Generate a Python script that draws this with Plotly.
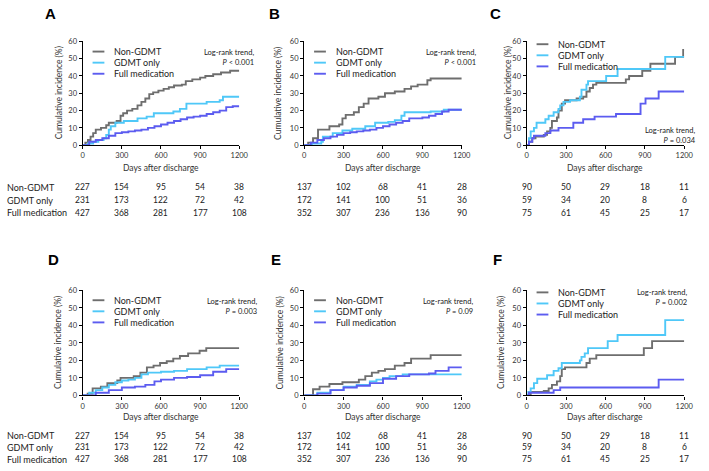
import plotly.graph_objects as go

W, H = 709, 471
FONT = "Lato"
C_NON = "#6e6e6e"
C_GD = "#4fc8f8"
C_FM = "#5c5cf0"

series_names = ["Non-GDMT", "GDMT only", "Full medication"]
day_ticks = [0, 300, 600, 900, 1200]
pct_ticks = [0, 10, 20, 30, 40, 50, 60]

# ---------------- Panel A ----------------
A_non_t = [0, 20, 40, 60, 80, 100, 140, 180, 200, 260, 290, 310, 340, 380, 420, 450, 480, 510, 540, 580, 620, 660, 700, 760, 790, 840, 900, 940, 1000, 1060, 1130, 1200]
A_non_y = [0, 1.5, 3, 5, 7, 9, 10, 11.5, 13, 14, 17, 18.5, 20, 21, 23, 25, 27, 29.5, 30.5, 31.5, 32.5, 33.5, 34.5, 35, 37, 38, 39, 40, 41, 42, 43, 43]
A_gd_t = [0, 40, 80, 120, 160, 180, 200, 215, 250, 315, 420, 490, 545, 695, 745, 795, 950, 1050, 1075, 1200]
A_gd_y = [0, 1, 2, 3, 4, 6, 9, 11, 13, 14, 15.5, 16.5, 18.5, 19.5, 21, 24, 25, 26, 28, 28]
A_fm_t = [0, 50, 100, 150, 200, 250, 300, 350, 400, 450, 500, 550, 600, 650, 700, 750, 800, 850, 900, 950, 1000, 1050, 1100, 1150, 1200]
A_fm_y = [0, 2, 3, 4, 5.5, 7, 7.5, 8, 8.5, 9, 10, 11, 12, 13, 14, 15, 16, 16.5, 17, 18, 19, 20, 22, 22.5, 22.5]

# ---------------- Panel B ----------------
B_non_t = [0, 30, 67, 105, 192, 266, 291, 316, 378, 416, 453, 490, 565, 615, 690, 764, 814, 864, 938, 963, 1200]
B_non_y = [0, 1.5, 4, 9, 11, 12, 15.5, 17.5, 19, 22, 24, 27, 28, 30, 31, 32.5, 34, 35, 37.5, 38.5, 38.5]
B_gd_t = [0, 60, 130, 142, 217, 291, 366, 465, 540, 640, 690, 740, 764, 963, 1063, 1200]
B_gd_y = [0, 1, 2, 5, 7, 8.5, 9.5, 11, 13, 13.5, 14.5, 17, 19, 19.5, 20.5, 21]
B_fm_t = [0, 50, 100, 150, 200, 250, 300, 350, 400, 450, 500, 550, 600, 650, 700, 750, 800, 850, 900, 950, 1000, 1050, 1100, 1200]
B_fm_y = [0, 1.5, 3, 4, 5, 6, 7, 7.5, 8, 8.5, 9, 10, 11, 12, 13, 14, 15.5, 15.5, 16, 17, 18, 19.5, 20.5, 21]

# ---------------- Panel C ----------------
C_non_t = [0, 17, 42, 67, 130, 155, 180, 192, 230, 242, 267, 292, 380, 430, 455, 480, 505, 530, 755, 780, 880, 942, 1130, 1192, 1200]
C_non_y = [0, 2, 4, 5, 6, 8, 10, 14, 16, 20, 24, 26, 27, 28, 31, 33, 35, 36, 38, 40, 43, 47, 51, 55, 55]
C_gd_t = [0, 17, 30, 55, 75, 142, 167, 205, 242, 255, 280, 330, 405, 417, 455, 467, 605, 692, 1055, 1200]
C_gd_y = [0, 4, 8, 10, 13, 15, 17, 19, 21, 23, 25, 26, 28, 32, 35, 37, 40, 44, 51, 51]
C_fm_t = [0, 17, 42, 55, 142, 180, 242, 355, 430, 517, 680, 867, 905, 1005, 1200]
C_fm_y = [0, 2, 4, 5.5, 7, 8.5, 10, 13, 15, 16.5, 18, 24, 27, 31, 31]

# ---------------- Panel D ----------------
D_non_t = [0, 38, 76, 139, 189, 265, 290, 391, 442, 492, 543, 593, 644, 694, 745, 808, 896, 947, 1200]
D_non_y = [0, 1, 4, 5, 7, 8.5, 10, 11, 13, 16, 17, 18.5, 19.5, 21, 22.5, 24, 25.5, 27, 27]
D_gd_t = [0, 50, 100, 150, 200, 250, 300, 350, 400, 450, 500, 600, 700, 800, 950, 1050, 1200]
D_gd_y = [0, 1.5, 3, 4.5, 6, 7.5, 8.5, 9, 10, 12, 13, 13.5, 14, 15, 16, 17, 17]
D_fm_t = [0, 100, 200, 300, 400, 480, 550, 600, 700, 800, 900, 1000, 1100, 1200]
D_fm_y = [0, 1.5, 3, 4.5, 5, 6, 8, 9, 10, 10.5, 11.5, 13.5, 15, 15]

# ---------------- Panel E ----------------
E_non_t = [0, 67, 117, 192, 291, 416, 465, 515, 565, 615, 690, 764, 814, 963, 1200]
E_non_y = [0, 3.5, 5, 6.5, 7.5, 9, 11, 13, 14, 15, 17, 18.5, 21, 23, 23]
E_gd_t = [0, 100, 200, 300, 400, 500, 550, 600, 650, 750, 1200]
E_gd_y = [0, 1.5, 3, 5, 6, 8, 9, 10, 11, 12, 12]
E_fm_t = [0, 100, 200, 300, 400, 500, 600, 700, 800, 950, 1000, 1100, 1200]
E_fm_y = [0, 1, 3, 4.5, 5.5, 7, 9.5, 11, 12, 12.5, 14, 16, 16.5]

# ---------------- Panel F ----------------
F_non_t = [0, 30, 130, 167, 192, 230, 255, 267, 292, 455, 480, 530, 892, 955, 1200]
F_non_y = [0, 2, 2.5, 4, 6, 8, 11, 15, 16, 18.5, 21, 23, 27, 31, 31]
F_gd_t = [0, 12, 30, 55, 80, 155, 205, 242, 267, 405, 417, 442, 467, 617, 692, 1055, 1200]
F_gd_y = [0, 2, 4, 7, 9.5, 11.5, 14, 15.5, 18.5, 20, 22, 24, 27, 31, 34.5, 43, 43]
F_fm_t = [0, 17, 205, 255, 1005, 1200]
F_fm_y = [0, 1.5, 3, 4.5, 9, 9]

# ---------------- Numbers at risk ----------------
risk_AD_non = [227, 154, 95, 54, 38]
risk_AD_gd = [231, 173, 122, 72, 42]
risk_AD_fm = [427, 368, 281, 177, 108]
risk_BE_non = [137, 102, 68, 41, 28]
risk_BE_gd = [172, 141, 100, 51, 36]
risk_BE_fm = [352, 307, 236, 136, 90]
risk_CF_non = [90, 50, 29, 18, 11]
risk_CF_gd = [59, 34, 20, 8, 6]
risk_CF_fm = [75, 61, 45, 25, 17]

p_texts = {"A": "<i>P</i> &lt; 0.001", "B": "<i>P</i> &lt; 0.001", "C": "<i>P</i> = 0.034",
           "D": "<i>P</i> = 0.003", "E": "<i>P</i> = 0.09", "F": "<i>P</i> = 0.002"}

panels = [
    dict(letter="A", curves=[(A_non_t, A_non_y), (A_gd_t, A_gd_y), (A_fm_t, A_fm_y)],
         risk=[risk_AD_non, risk_AD_gd, risk_AD_fm], xp=(82, 241), yp=(38, 144),
         lpos=(49, 10), ytx=58, leg_off=10.5, pr=(258, 43), rows=(187, 200, 213), xt=167, labels=True),
    dict(letter="B", curves=[(B_non_t, B_non_y), (B_gd_t, B_gd_y), (B_fm_t, B_fm_y)],
         risk=[risk_BE_non, risk_BE_gd, risk_BE_fm], xp=(307, 467), yp=(38, 144),
         lpos=(277, 10), ytx=281, leg_off=10.5, pr=(483, 43), rows=(187, 200, 213), xt=167, labels=False),
    dict(letter="C", curves=[(C_non_t, C_non_y), (C_gd_t, C_gd_y), (C_fm_t, C_fm_y)],
         risk=[risk_CF_non, risk_CF_gd, risk_CF_fm], xp=(533, 693), yp=(38, 144),
         lpos=(501, 10), ytx=514, leg_off=3, pr=(707, 122), rows=(187, 200, 213), xt=167, labels=False),
    dict(letter="D", curves=[(D_non_t, D_non_y), (D_gd_t, D_gd_y), (D_fm_t, D_fm_y)],
         risk=[risk_AD_non, risk_AD_gd, risk_AD_fm], xp=(82, 241), yp=(292, 399),
         lpos=(52, 260), ytx=57, leg_off=10, pr=(261, 297), rows=(440, 452, 464), xt=421, labels=True),
    dict(letter="E", curves=[(E_non_t, E_non_y), (E_gd_t, E_gd_y), (E_fm_t, E_fm_y)],
         risk=[risk_BE_non, risk_BE_gd, risk_BE_fm], xp=(307, 467), yp=(292, 399),
         lpos=(278, 260), ytx=282, leg_off=10, pr=(480, 297), rows=(440, 452, 464), xt=421, labels=False),
    dict(letter="F", curves=[(F_non_t, F_non_y), (F_gd_t, F_gd_y), (F_fm_t, F_fm_y)],
         risk=[risk_CF_non, risk_CF_gd, risk_CF_fm], xp=(533, 693), yp=(292, 399),
         lpos=(503, 260), ytx=507, leg_off=2, pr=(698, 288), rows=(440, 452, 464), xt=421, labels=False),
]

colors = [C_NON, C_GD, C_FM]


def px(x):
    return x / W


def py(y):
    return 1 - y / H


fig = go.Figure()
annotations = []
shapes = []
layout = {}

for i, p in enumerate(panels, start=1):
    xr = "x" if i == 1 else f"x{i}"
    yr = "y" if i == 1 else f"y{i}"
    xa = "xaxis" if i == 1 else f"xaxis{i}"
    ya = "yaxis" if i == 1 else f"yaxis{i}"
    x0, x1 = p["xp"]
    y0, y1 = p["yp"]
    wpx, hpx = x1 - x0, y1 - y0

    for (t, v), col, name in zip(p["curves"], colors, series_names):
        fig.add_trace(go.Scatter(x=t, y=v, mode="lines", name=name,
                                 line=dict(color=col, width=1.9, shape="hv"),
                                 xaxis=xr, yaxis=yr, showlegend=False, hoverinfo="skip"))

    layout[xa] = dict(domain=[px(x0), px(x1)], range=[0, 1200], tickvals=day_ticks,
                      ticks="outside", ticklen=3, tickwidth=1, tickcolor="black",
                      showline=True, linecolor="black", linewidth=1.4, showgrid=False,
                      zeroline=False, tickfont=dict(family=FONT, size=7.5, color="#333"),
                      anchor=yr, fixedrange=True)
    layout[ya] = dict(domain=[py(y1), py(y0)], range=[0, 60], tickvals=pct_ticks,
                      ticks="outside", ticklen=3, tickwidth=1, tickcolor="black",
                      showline=True, linecolor="black", linewidth=1.4, showgrid=False,
                      zeroline=False, tickfont=dict(family=FONT, size=7.5, color="#333"),
                      anchor=xr, fixedrange=True)

    # panel letter
    annotations.append(dict(text=f"<b>{p['letter']}</b>", x=px(p["lpos"][0]), y=py(p["lpos"][1]),
                            xref="paper", yref="paper", showarrow=False, xanchor="center",
                            yanchor="middle", font=dict(family="Liberation Sans", size=15, color="black")))
    # y title
    annotations.append(dict(text="Cumulative incidence (%)", x=px(p["ytx"]), y=py((y0 + y1) / 2),
                            xref="paper", yref="paper", showarrow=False, textangle=-90,
                            xanchor="center", yanchor="middle",
                            font=dict(family=FONT, size=8.5, color="#333")))
    # x title
    annotations.append(dict(text="Days after discharge", x=px((x0 + x1) / 2), y=py(p["xt"]),
                            xref="paper", yref="paper", showarrow=False, xanchor="center",
                            yanchor="middle", font=dict(family=FONT, size=8.5, color="#333")))
    # legend
    for k, (name, col) in enumerate(zip(series_names, colors)):
        yy = 1 - (p["leg_off"] + k * 11.3) / hpx
        shapes.append(dict(type="line", xref=f"{xr} domain", yref=f"{yr} domain",
                           x0=10 / wpx, x1=22 / wpx, y0=yy, y1=yy,
                           line=dict(color=col, width=1.9)))
        annotations.append(dict(text=name, xref=f"{xr} domain", yref=f"{yr} domain",
                                x=30 / wpx, y=yy, showarrow=False, xanchor="left",
                                yanchor="middle", font=dict(family=FONT, size=9, color="#222")))
    # log-rank text
    annotations.append(dict(text="Log-rank trend,<br>" + p_texts[p["letter"]],
                            x=px(p["pr"][0]), y=py(p["pr"][1]), xref="paper", yref="paper",
                            showarrow=False, xanchor="right", yanchor="top", align="right",
                            font=dict(family=FONT, size=7.5, color="#222")))
    # numbers at risk
    for row_y, vals, name in zip(p["rows"], p["risk"], series_names):
        if p["labels"]:
            annotations.append(dict(text=name, x=px(3), y=py(row_y), xref="paper", yref="paper",
                                    showarrow=False, xanchor="left", yanchor="middle",
                                    font=dict(family=FONT, size=9, color="#222")))
        for d, v in zip(day_ticks, vals):
            annotations.append(dict(text=str(v), x=d, y=py(row_y), xref=xr, yref="paper",
                                    showarrow=False, xanchor="center", yanchor="middle",
                                    font=dict(family=FONT, size=8.5, color="#222")))

fig.update_layout(width=W, height=H, margin=dict(l=0, r=0, t=0, b=0),
                  paper_bgcolor="white", plot_bgcolor="white",
                  annotations=annotations, shapes=shapes, showlegend=False, **layout)

fig.write_html("out.html", config={"displayModeBar": False},
               post_script="document.body.style.margin='0';document.body.style.padding='0';")
